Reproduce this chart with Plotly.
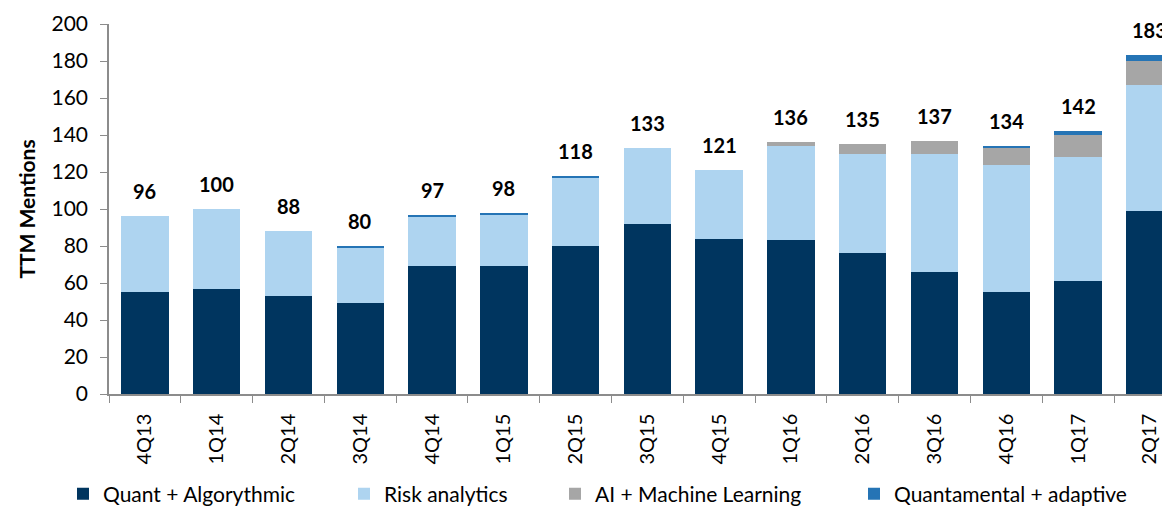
import plotly.graph_objects as go

# TTM mentions by theme, per quarter
quarters = ["4Q13", "1Q14", "2Q14", "3Q14", "4Q14", "1Q15", "2Q15", "3Q15",
            "4Q15", "1Q16", "2Q16", "3Q16", "4Q16", "1Q17", "2Q17"]
quant = [55, 57, 53, 49, 69, 69, 80, 92, 84, 83, 76, 66, 55, 61, 99]
risk = [41, 43, 35, 30, 27, 28, 37, 41, 37, 51, 54, 64, 69, 67, 68]
ai_ml = [0, 0, 0, 0, 0, 0, 0, 0, 0, 2, 5, 7, 9, 12, 13]
quantamental = [0, 0, 0, 1, 1, 1, 1, 0, 0, 0, 0, 0, 1, 2, 3]

FONT = "Lato, 'Open Sans', sans-serif"
# the page body adds an 8px margin, so the figure is 8px smaller than the window
OFF = 8
W, H = 1170 - OFF, 506 - OFF
M_L, M_R, M_T, M_B = 101, 0, 16, 112

series = [
    ("Quant + Algorythmic", quant, "#00355F"),
    ("Risk analytics", risk, "#AED4F0"),
    ("AI + Machine Learning", ai_ml, "#A6A6A6"),
    ("Quantamental + adaptive", quantamental, "#2574B5"),
]
# legend symbol centres (window px) as in the reference
legend_px = [87, 368, 579, 878]

fig = go.Figure()
legend_layouts = {}
for i, (name, vals, color) in enumerate(series):
    key = "legend" if i == 0 else f"legend{i + 1}"
    fig.add_trace(go.Bar(
        x=quarters, y=vals, name=name,
        marker=dict(color=color, line_width=0),
        width=0.66,
        legend=key,
        showlegend=True,
        hoverinfo="x+y+name",
    ))
    legend_layouts[key] = dict(
        xref="container", yref="container",
        x=(legend_px[i] - 4 - 20 - OFF) / W,
        xanchor="left",
        y=1 - (494 - OFF) / H,
        yanchor="middle",
        orientation="h",
        font=dict(family=FONT, size=21, color="#000000"),
        bgcolor="rgba(0,0,0,0)",
        itemwidth=30,
        visible=True,
    )

totals = [sum(v) for v in zip(quant, risk, ai_ml, quantamental)]
for q, t in zip(quarters, totals):
    fig.add_annotation(
        x=q, y=t, text=f"<b>{t}</b>",
        showarrow=False, yanchor="bottom", yshift=11,
        font=dict(family=FONT, size=20, color="#000000"),
    )

fig.update_layout(
    barmode="stack",
    showlegend=True,
    width=W, height=H,
    margin=dict(l=M_L, r=M_R, t=M_T, b=M_B, autoexpand=False),
    plot_bgcolor="white",
    paper_bgcolor="white",
    font=dict(family=FONT, size=20, color="#000000"),
    **legend_layouts,
)

fig.update_xaxes(
    type="category",
    range=[-0.5, 14.28],
    tickson="boundaries",
    ticks="outside", ticklen=7, tickcolor="#8C8C8C",
    showline=True, linecolor="#8C8C8C", linewidth=1.5,
    tickangle=-90,
    ticklabelstandoff=10,
    tickfont=dict(family=FONT, size=20),
    showgrid=False,
    automargin=False,
)
fig.update_yaxes(
    range=[0, 200], dtick=20,
    ticks="outside", ticklen=7, tickcolor="#8C8C8C",
    showline=True, linecolor="#8C8C8C", linewidth=1.5,
    ticklabelstandoff=8,
    tickfont=dict(family=FONT, size=21),
    showgrid=False, zeroline=False,
    automargin=False,
    title=dict(text="<b>TTM Mentions</b>", font=dict(family=FONT, size=21), standoff=10),
)

fig.write_html("out.html")
